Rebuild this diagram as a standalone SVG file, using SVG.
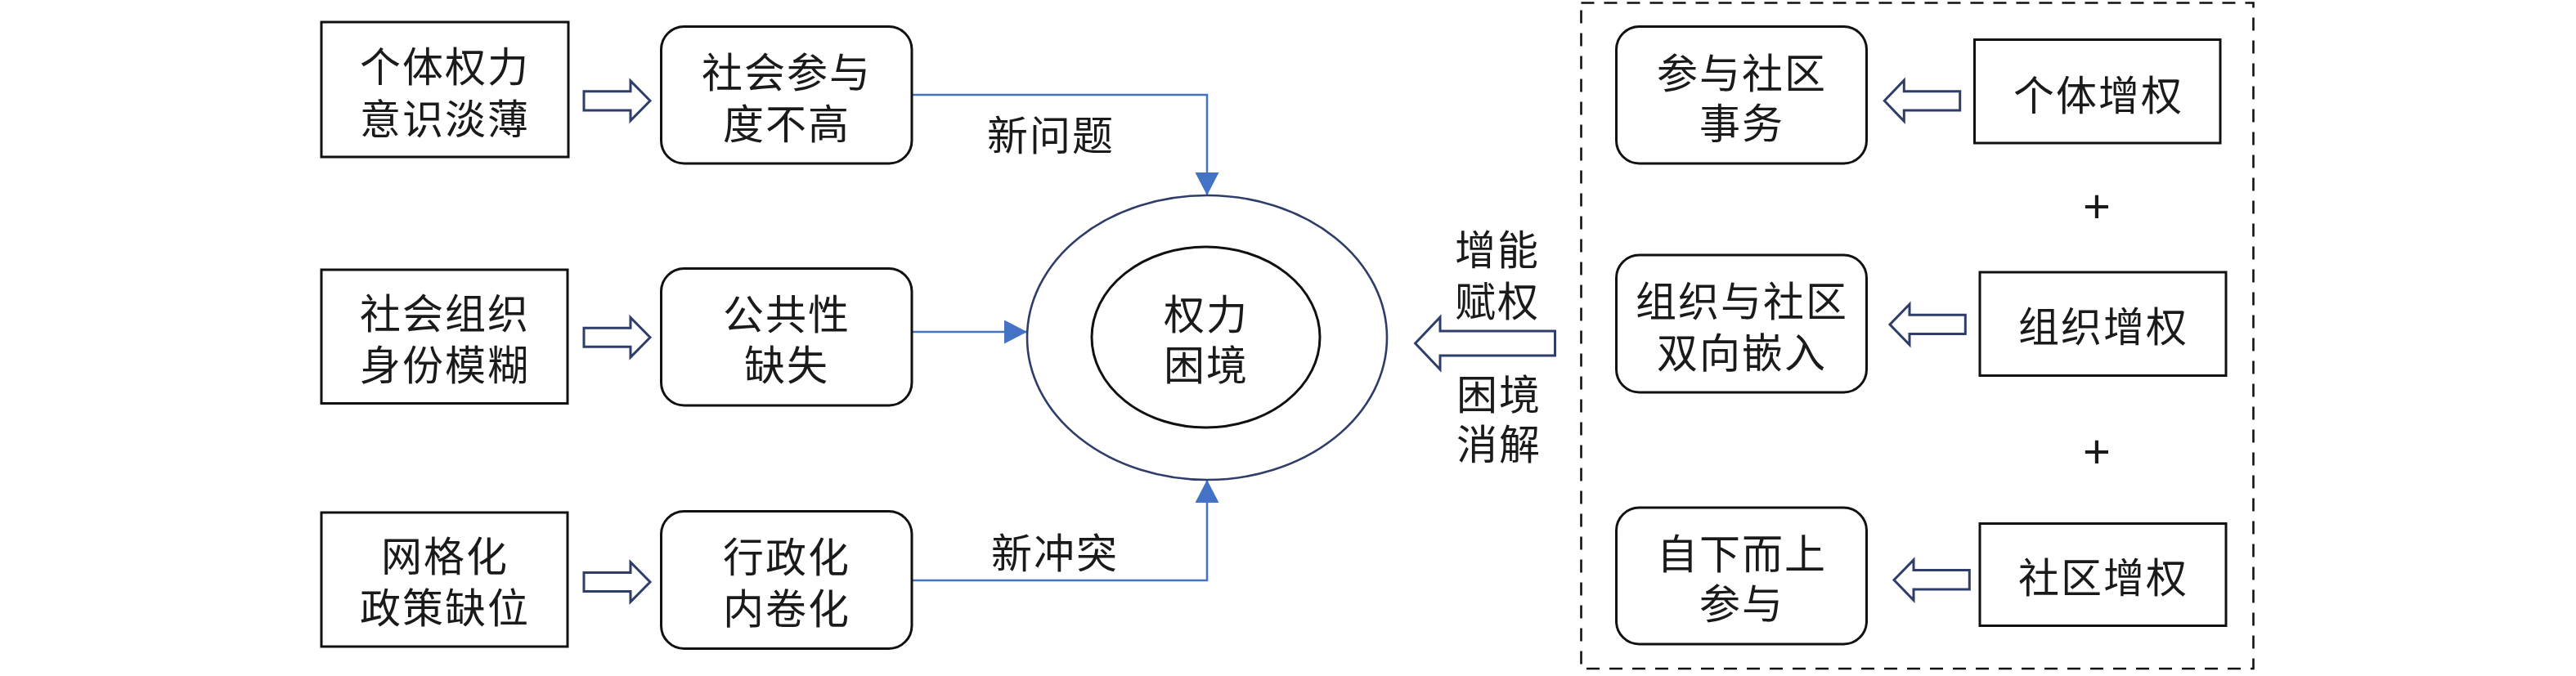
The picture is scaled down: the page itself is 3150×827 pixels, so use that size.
<svg xmlns="http://www.w3.org/2000/svg" width="3150" height="827" viewBox="0 0 3150 827">
<defs>
<style>
.box{fill:#fff;stroke:#111;stroke-width:3}
.hol{fill:#fff;stroke:#2F3D6A;stroke-width:3;stroke-linejoin:miter}
.t{font-family:"Noto Sans CJK SC","Noto Sans CJK JP",sans-serif;font-size:50px;fill:#1a1a1a;text-anchor:middle;dominant-baseline:central;letter-spacing:2px}
.plus{font-family:"Liberation Sans",Arial,sans-serif;font-size:58px;fill:#1a1a1a;text-anchor:middle;dominant-baseline:central}
.blue{fill:none;stroke:#4472C4;stroke-width:2.5}
</style>
<marker id="ah" markerUnits="userSpaceOnUse" viewBox="0 0 28 29" markerWidth="28" markerHeight="29" refX="28" refY="14.5" orient="auto">
<path d="M0,0 L28,14.5 L0,29 Z" fill="#4472C4"/>
</marker>
</defs>
<rect width="3150" height="827" fill="#fff"/>

<g id="group-frame">
<rect x="1933.5" y="3.5" width="822" height="814.5" fill="none" stroke="#111" stroke-width="2.6" stroke-dasharray="16,12"/>
</g>

<g id="connectors">
<polyline class="blue" points="1115,116 1476,116 1476,239" marker-end="url(#ah)"/>
<line class="blue" x1="1115" y1="406" x2="1256" y2="406" marker-end="url(#ah)"/>
<polyline class="blue" points="1115,710 1476,710 1476,587" marker-end="url(#ah)"/>
<path class="hol" d="M714,111.7 H771 V99 L795,123.3 L771,147.6 V135 H714 Z"/>
<path class="hol" d="M714,401.2 H771 V388.4 L795,412.7 L771,437 V424.2 H714 Z"/>
<path class="hol" d="M714,700.5 H771 V687.7 L795,712 L771,736.3 V723.5 H714 Z"/>
<path class="hol" d="M2396.7,111.7 H2328.3 V98.3 L2304.3,123.3 L2328.3,148.3 V135 H2396.7 Z"/>
<path class="hol" d="M2403.3,385.2 H2335 V372.3 L2311,397 L2335,421.7 V408.5 H2403.3 Z"/>
<path class="hol" d="M2408.3,697.5 H2340 V685 L2316,709.5 L2340,734.3 V721 H2408.3 Z"/>
<path class="hol" d="M1901.5,405 H1761 V388 L1730.6,420 L1761,452 V435 H1901.5 Z" stroke-width="3.5"/>
<text class="t" x="1285" y="162">新问题</text>
<text class="t" x="1290" y="673">新冲突</text>
<text class="t"><tspan x="1831" y="302">增能</tspan><tspan x="1831" y="365">赋权</tspan></text>
<text class="t"><tspan x="1833" y="479">困境</tspan><tspan x="1833" y="540">消解</tspan></text>
</g>

<g id="node-a1"><rect class="box" x="393" y="27" width="302" height="165"/>
<text class="t"><tspan x="544" y="78">个体权力</tspan><tspan x="544" y="142">意识淡薄</tspan></text></g>
<g id="node-a2"><rect class="box" x="393" y="330" width="301" height="163.5"/>
<text class="t"><tspan x="544" y="380">社会组织</tspan><tspan x="544" y="443">身份模糊</tspan></text></g>
<g id="node-a3"><rect class="box" x="393" y="627" width="301" height="164"/>
<text class="t"><tspan x="544" y="677">网格化</tspan><tspan x="544" y="740">政策缺位</tspan></text></g>

<g id="node-b1"><rect class="box" x="808.5" y="32.5" width="306.5" height="167.5" rx="28"/>
<text class="t"><tspan x="962" y="85">社会参与</tspan><tspan x="962" y="148">度不高</tspan></text></g>
<g id="node-b2"><rect class="box" x="808.5" y="328.5" width="306.5" height="167.5" rx="28"/>
<text class="t"><tspan x="962" y="381">公共性</tspan><tspan x="962" y="443">缺失</tspan></text></g>
<g id="node-b3"><rect class="box" x="808.5" y="625.5" width="306.5" height="168" rx="28"/>
<text class="t"><tspan x="962" y="678">行政化</tspan><tspan x="962" y="741">内卷化</tspan></text></g>

<g id="node-center">
<ellipse cx="1476" cy="413" rx="220" ry="174" fill="none" stroke="#2F3D6A" stroke-width="2.6"/>
<ellipse cx="1474.5" cy="412.5" rx="139.5" ry="110.5" fill="#fff" stroke="#111" stroke-width="3"/>
<text class="t"><tspan x="1475" y="381">权力</tspan><tspan x="1475" y="443">困境</tspan></text>
</g>

<g id="node-c1"><rect class="box" x="1976.5" y="32.5" width="306" height="167.5" rx="28"/>
<text class="t"><tspan x="2130" y="86">参与社区</tspan><tspan x="2130" y="147">事务</tspan></text></g>
<g id="node-c2"><rect class="box" x="1976.5" y="312" width="306" height="168" rx="28"/>
<text class="t"><tspan x="2130" y="365">组织与社区</tspan><tspan x="2130" y="428">双向嵌入</tspan></text></g>
<g id="node-c3"><rect class="box" x="1976.5" y="621" width="306" height="167" rx="28"/>
<text class="t"><tspan x="2130" y="674">自下而上</tspan><tspan x="2130" y="735">参与</tspan></text></g>

<g id="node-d1"><rect class="box" x="2414.5" y="48.5" width="300.5" height="126.5"/>
<text class="t" x="2566" y="113">个体增权</text></g>
<g id="node-d2"><rect class="box" x="2421" y="333" width="301" height="126.5"/>
<text class="t" x="2572" y="396">组织增权</text></g>
<g id="node-d3"><rect class="box" x="2421" y="640.5" width="301" height="125"/>
<text class="t" x="2572" y="703">社区增权</text></g>

<g id="plus-signs">
<text class="plus" x="2564" y="251">+</text>
<text class="plus" x="2564" y="551">+</text>
</g>
</svg>
